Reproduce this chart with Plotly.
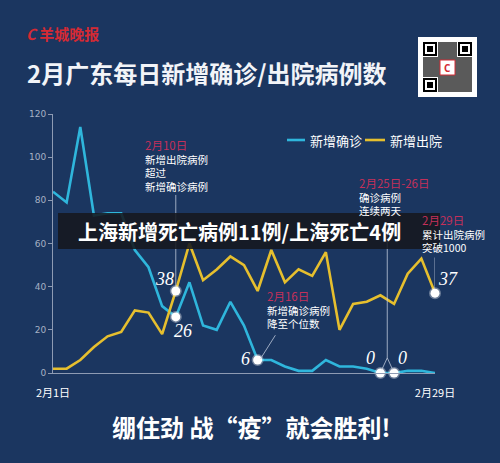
import plotly.graph_objects as go

# ---- data ----
days = list(range(1, 30))
confirmed = [84, 79, 114, 73, 74, 74, 57, 49, 31, 26, 42, 22, 20, 33, 22,
             6, 6, 3, 1, 1, 6, 3, 3, 2, 0, 0, 1, 1, 0]
discharged = [2, 2, 6, 12, 17, 19, 29, 28, 18, 38, 60, 43, 48, 54, 50,
              38, 57, 42, 48, 45, 56, 20, 32, 33, 36, 32, 46, 53, 37]
series_names = ["新增确诊", "新增出院"]
x_ticks = [1, 29]
x_ticktext = ["2月1日", "2月29日"]
y_ticks = [0, 20, 40, 60, 80, 100, 120]
highlight_conf_days = [10, 16, 25, 26]
highlight_dis_days = [10, 29]

BG = "#1b3660"
CYAN = "#2fb6dc"
YELLOW = "#e6bf2e"
RED = "#c4305a"
W, H = 500, 463
L, R, T, B = 53, 65, 114, 90
PW, PH = W - L - R, H - T - B


def px(x):
    return (x - L) / PW


def py(y):
    return (H - B - y) / PH


fig = go.Figure()
fig.add_trace(go.Scatter(x=days, y=confirmed, mode="lines", name=series_names[0],
                         line=dict(color=CYAN, width=2.6), cliponaxis=False, showlegend=False))
fig.add_trace(go.Scatter(x=days, y=discharged, mode="lines", name=series_names[1],
                         line=dict(color=YELLOW, width=2.6), cliponaxis=False, showlegend=False))

hx = highlight_conf_days + highlight_dis_days
hy = [confirmed[d - 1] for d in highlight_conf_days] + [discharged[d - 1] for d in highlight_dis_days]
fig.add_trace(go.Scatter(x=hx, y=hy, mode="markers", showlegend=False, cliponaxis=False,
                         marker=dict(color="white", size=9,
                                     line=dict(color="rgba(255,255,255,0.35)", width=3))))

ann = []
shapes = []

# value labels
lab_font = dict(family="Liberation Serif", size=18, color="white")
label_specs = [
    (10, discharged[9], -11, 12),
    (10, confirmed[9], 7, -14),
    (16, confirmed[15], -12, 1),
    (25, confirmed[24], -10, 15),
    (26, confirmed[25], 8, 15),
    (29, discharged[28], 13, 14),
]
for d, v, dx, dy in label_specs:
    ann.append(dict(x=d, y=v, xref="x", yref="y", text=f"<i>{v}</i>", showarrow=False,
                    xshift=dx, yshift=dy, font=lab_font))

# leader lines (decorative)
lc = "rgba(200,210,225,0.75)"
shapes += [
    dict(type="line", xref="x", yref="y", x0=10, x1=10, y0=82.5, y1=discharged[9] + 2,
         line=dict(color=lc, width=1)),
    dict(type="line", xref="x", yref="y", x0=17.3, x1=16.2, y0=17.5, y1=confirmed[15] + 0.5,
         line=dict(color=lc, width=1)),
    dict(type="line", xref="x", yref="y", x0=25.5, x1=25.5, y0=68, y1=7,
         line=dict(color=lc, width=1)),
    dict(type="line", xref="x", yref="y", x0=25.5, x1=25.1, y0=7, y1=1.5,
         line=dict(color=lc, width=1)),
    dict(type="line", xref="x", yref="y", x0=25.5, x1=25.9, y0=7, y1=1.5,
         line=dict(color=lc, width=1)),
    dict(type="line", xref="x", yref="y", x0=29, x1=29, y0=53.5, y1=discharged[28] + 2,
         line=dict(color=lc, width=1)),
]

txt_font = dict(family="Noto Sans CJK SC", size=10.5, color="white")


def note(x, y, text, font, xanchor="left"):
    ann.append(dict(x=px(x), y=py(y), xref="paper", yref="paper", text=text, showarrow=False,
                    xanchor=xanchor, yanchor="middle", align="left", font=font))


def block(x, y, date, lines):
    txt = f'<span style="color:{RED};font-size:11.5px">{date}</span><br>' + "<br>".join(lines)
    note(x, y, txt, txt_font)


# banner (drawn below the note texts)
shapes.append(dict(type="rect", xref="paper", yref="paper", x0=px(58), x1=px(440),
                   y0=py(249), y1=py(213), fillcolor="rgba(22,24,30,0.88)", line=dict(width=0),
                   layer="above"))
note(239, 231.5, "<b>上海新增死亡病例11例/上海死亡4例</b>",
     dict(family="Noto Sans CJK SC", size=20, color="white"), xanchor="center")

block(143, 165, "2月10日", ["新增出院病例", "超过", "新增确诊病例"])
block(265, 309.5, "2月16日", ["新增确诊病例", "降至个位数"])
block(357, 196, "2月25日-26日", ["确诊病例", "连续两天"])
block(420, 233, "2月29日", ["累计出院病例", "突破1000"])

# custom legend
leg_font = dict(family="Noto Sans CJK SC", size=13, color="white")
for (x0, x1, tx), name, col in zip([(287, 305, 308), (365, 385, 388)], series_names, [CYAN, YELLOW]):
    shapes.append(dict(type="line", xref="paper", yref="paper", x0=px(x0), x1=px(x1),
                       y0=py(140), y1=py(140), line=dict(color=col, width=2.6)))
    note(tx, 140, name, leg_font)

# header
note(25, 72, "<b>2月广东每日新增确诊/出院病例数</b>",
     dict(family="Noto Sans CJK SC", size=24, color="#f2f4f8"))
note(24, 34, "<b><i>C</i> 羊城晚报</b>", dict(family="Noto Sans CJK SC", size=15, color="#d42a34"))
# footer
note(251, 426, "<b>绷住劲 战“疫”就会胜利!</b>",
     dict(family="Noto Sans CJK SC", size=24, color="white"), xanchor="center")

# QR code decoration
qx0, qx1, qy0, qy1 = 418, 477, 37, 97
shapes.append(dict(type="rect", xref="paper", yref="paper", x0=px(qx0), x1=px(qx1),
                   y0=py(qy1), y1=py(qy0), fillcolor="white", line=dict(width=0), layer="above"))
shapes.append(dict(type="rect", xref="paper", yref="paper", x0=px(qx0 + 5), x1=px(qx1 - 5),
                   y0=py(qy1 - 5), y1=py(qy0 + 5), fillcolor="#5a5a5a", line=dict(width=0),
                   layer="above"))
for fx, fy in [(qx0 + 5, qy0 + 5), (qx1 - 19, qy0 + 5), (qx0 + 5, qy1 - 19)]:
    shapes.append(dict(type="rect", xref="paper", yref="paper", x0=px(fx - 1), x1=px(fx + 15),
                       y0=py(fy + 15), y1=py(fy - 1), fillcolor="white", line=dict(width=0), layer="above"))
    shapes.append(dict(type="rect", xref="paper", yref="paper", x0=px(fx), x1=px(fx + 14),
                       y0=py(fy + 14), y1=py(fy), fillcolor="black", line=dict(width=0), layer="above"))
    shapes.append(dict(type="rect", xref="paper", yref="paper", x0=px(fx + 2), x1=px(fx + 12),
                       y0=py(fy + 12), y1=py(fy + 2), fillcolor="white", line=dict(width=0), layer="above"))
    shapes.append(dict(type="rect", xref="paper", yref="paper", x0=px(fx + 4), x1=px(fx + 10),
                       y0=py(fy + 10), y1=py(fy + 4), fillcolor="black", line=dict(width=0), layer="above"))
shapes.append(dict(type="rect", xref="paper", yref="paper", x0=px(440), x1=px(455),
                   y0=py(75), y1=py(60), fillcolor="white", line=dict(color="#d42a34", width=1),
                   layer="above"))
note(447.5, 67.5, "<b>C</b>", dict(family="Noto Sans", size=10, color="#d42a34"), xanchor="center")

fig.update_layout(
    width=W, height=H,
    margin=dict(l=L, r=R, t=T, b=B),
    paper_bgcolor=BG, plot_bgcolor=BG,
    showlegend=False,
    annotations=ann,
    shapes=shapes,
    xaxis=dict(range=[1, 29], tickvals=x_ticks, ticktext=x_ticktext, showgrid=False, zeroline=False,
               showline=True, linecolor="#8e9bb3", linewidth=1, ticks="", ticklabelstandoff=10,
               tickfont=dict(family="Noto Sans CJK SC", size=11, color="white")),
    yaxis=dict(range=[0, 120], tickvals=y_ticks, showgrid=False, zeroline=False,
               showline=True, linecolor="#8e9bb3", linewidth=1, ticks="outside", ticklen=4,
               tickcolor="#8e9bb3",
               tickfont=dict(family="DejaVu Sans", size=9, color="#a6b1c4")),
)

fig.write_html("out.html")
